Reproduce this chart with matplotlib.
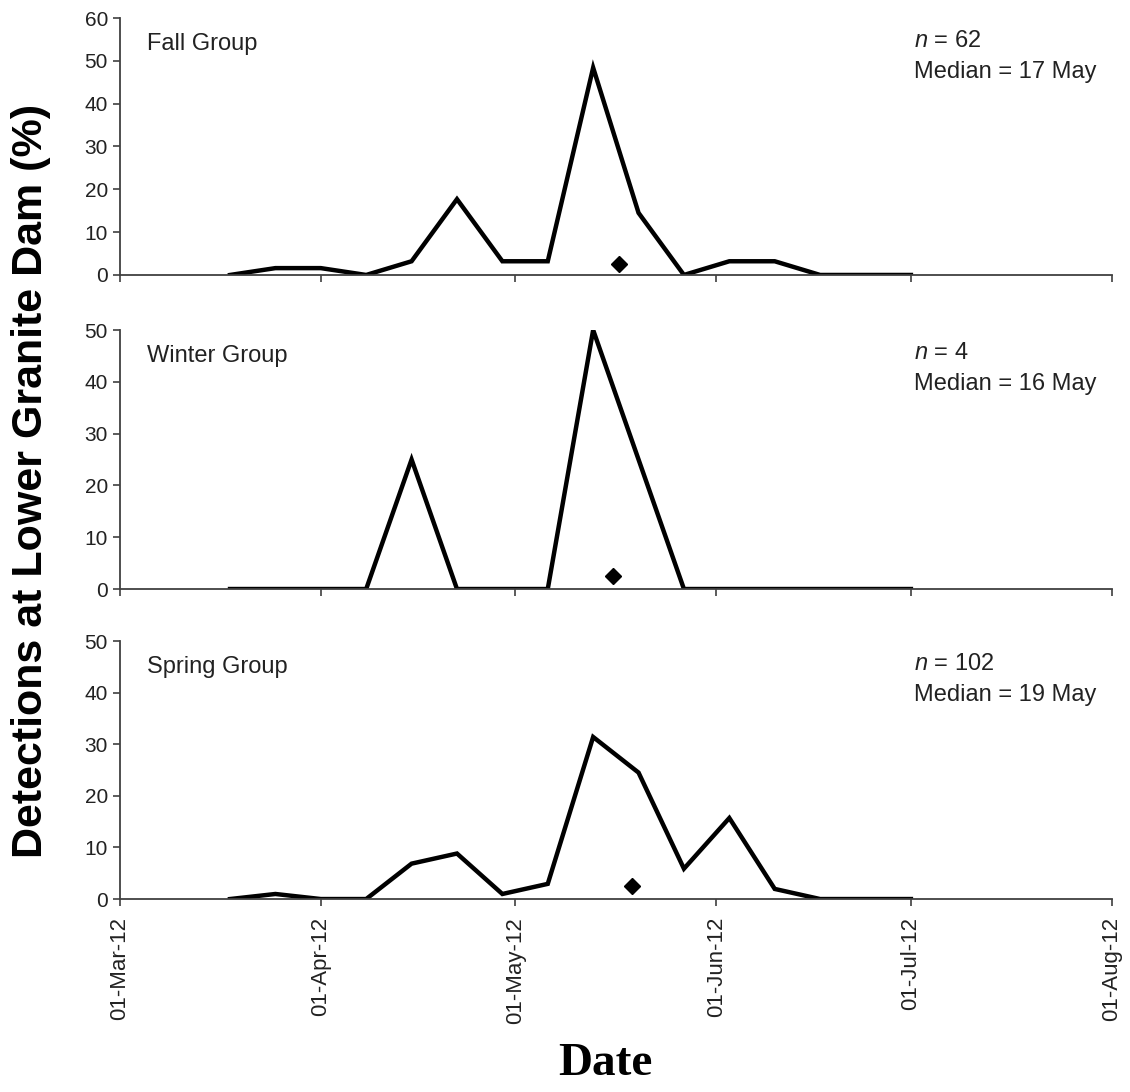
import datetime as dt
import matplotlib
matplotlib.use("Agg")
import matplotlib.pyplot as plt
import matplotlib.dates as mdates

plt.rcParams['font.family'] = ['Liberation Sans', 'DejaVu Sans']
plt.rcParams['mathtext.fontset'] = 'custom'
plt.rcParams['mathtext.it'] = 'Liberation Sans:italic'
plt.rcParams['mathtext.rm'] = 'Liberation Sans'

# weekly detection dates (Sundays)
weeks = [dt.date(2012, 3, 18) + dt.timedelta(days=7 * i) for i in range(16)]

fall = [0, 1.6, 1.6, 0, 3.2, 17.7, 3.2, 3.2, 48.4, 14.5, 0, 3.2, 3.2, 0, 0, 0]
winter = [0, 0, 0, 0, 25, 0, 0, 0, 50, 25, 0, 0, 0, 0, 0, 0]
spring = [0, 0.98, 0, 0, 6.86, 8.82, 0.98, 2.94, 31.4, 24.5, 5.88, 15.7, 1.96, 0, 0, 0]

groups = ['Fall Group', 'Winter Group', 'Spring Group']
counts = [62, 4, 102]
medians = [dt.date(2012, 5, 17), dt.date(2012, 5, 16), dt.date(2012, 5, 19)]
median_labels = ['17 May', '16 May', '19 May']
ymaxes = [60, 50, 50]
series = [fall, winter, spring]

fig = plt.figure(figsize=(11.3, 10.92), dpi=100)
boxes = [(0.7482, 0.2353), (0.4606, 0.2372), (0.1767, 0.2363)]
spine_col = '#404040'

for i, (bottom, height) in enumerate(boxes):
    ax = fig.add_axes([0.106, bottom, 0.878, height])
    ax.plot(weeks, series[i], color='black', lw=3.2, solid_joinstyle='miter')
    ax.plot([medians[i]], [2.5], marker='D', color='black', ms=8, ls='none')

    ax.set_xlim(dt.date(2012, 3, 1), dt.date(2012, 8, 1))
    ax.set_ylim(0, ymaxes[i])
    ax.set_yticks(range(0, ymaxes[i] + 1, 10))
    ax.xaxis.set_major_locator(mdates.MonthLocator())
    ax.xaxis.set_major_formatter(mdates.DateFormatter('%d-%b-%y'))

    for s in ['top', 'right']:
        ax.spines[s].set_visible(False)
    for s in ['left', 'bottom']:
        ax.spines[s].set_color(spine_col)
        ax.spines[s].set_linewidth(1.3)
    ax.tick_params(axis='both', direction='out', length=5, width=1.2,
                   color=spine_col, labelsize=15, labelcolor='#222222')
    ax.tick_params(axis='x', labelsize=16, pad=8)
    if i < 2:
        ax.tick_params(axis='x', labelbottom=False)
    else:
        for lab in ax.get_xticklabels():
            lab.set_rotation(90)

    ax.text(0.027, 0.90, groups[i], transform=ax.transAxes, fontsize=17,
            color='#222222', va='center', ha='left')
    ax.text(0.801, 0.91, '$n$ = %d' % counts[i], transform=ax.transAxes,
            fontsize=17, color='#222222', va='center', ha='left')
    ax.text(0.801, 0.79, 'Median = %s' % median_labels[i], transform=ax.transAxes,
            fontsize=17, color='#222222', va='center', ha='left')

fig.text(0.027, 0.56, 'Detections at Lower Granite Dam (%)', rotation=90,
         fontsize=31, fontweight='bold', ha='center', va='center')
fig.text(0.536, 0.006, 'Date', fontsize=34, fontweight='bold',
         family='Liberation Serif', ha='center', va='bottom')

fig.savefig('out.png', dpi=100)
